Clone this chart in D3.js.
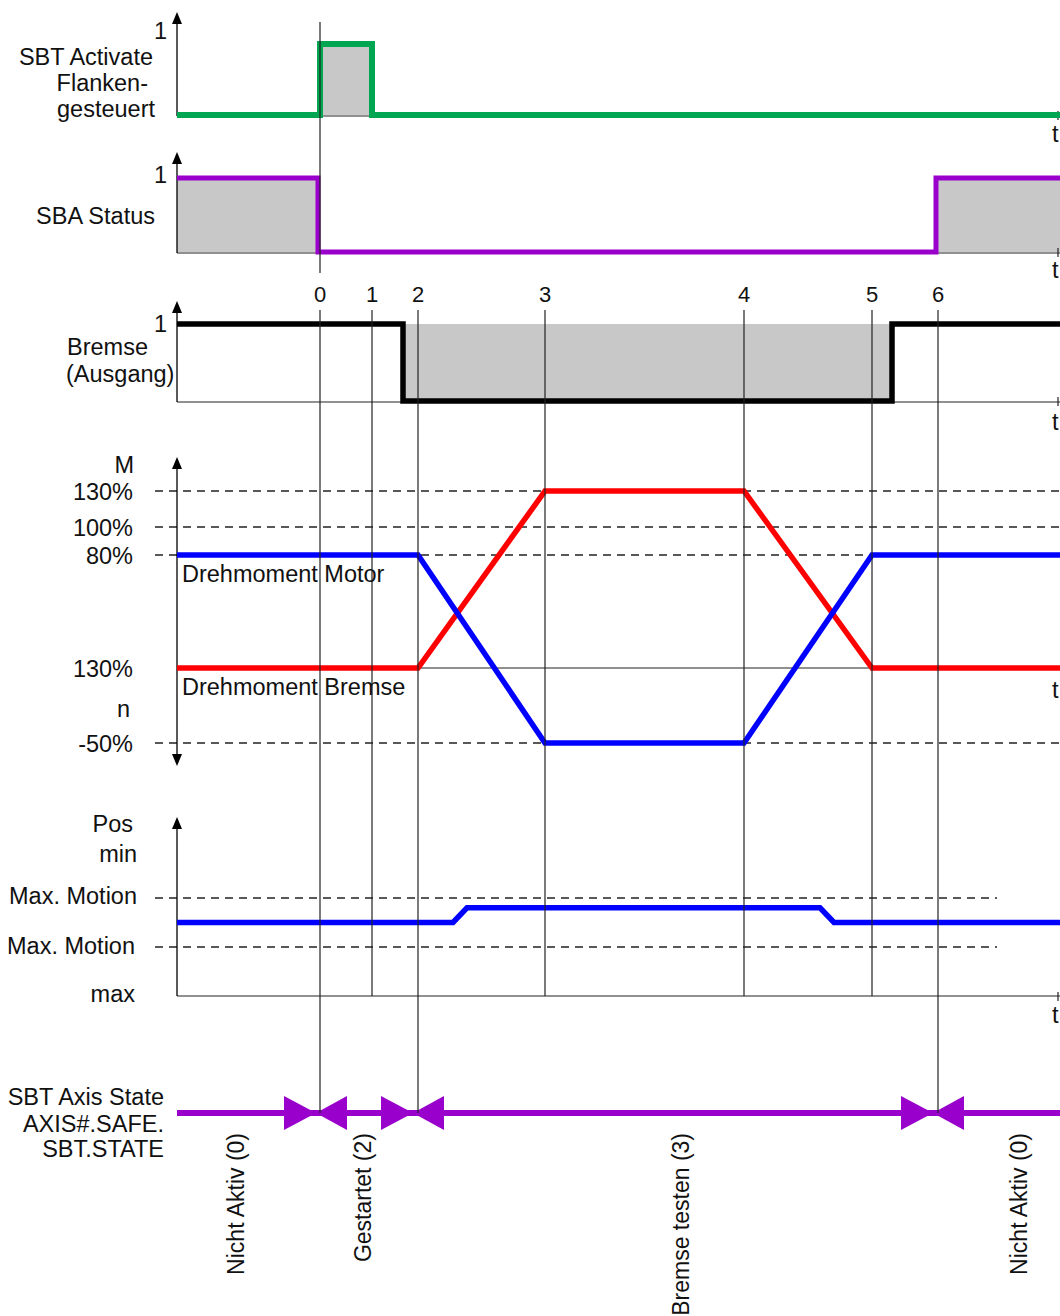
<!DOCTYPE html>
<html>
<head>
<meta charset="utf-8">
<script src="https://cdn.jsdelivr.net/npm/d3@7"></script>
<style>
  body { margin: 0; background: #fff; }
  text { font-family: "Liberation Sans", Arial, sans-serif; font-size: 23.5px; fill: #111; }
</style>
</head>
<body>
<svg id="chart" width="1060" height="1316"></svg>
<script>
// time runs in arbitrary units, 0 = left axis
const timeMarks = [
    {label: "0", t: 14.3}, {label: "1", t: 19.5}, {label: "2", t: 24.1},
    {label: "3", t: 36.8}, {label: "4", t: 56.7}, {label: "5", t: 69.5}, {label: "6", t: 76.1}
];
const longMarks = ["0", "2", "6"];

// digital signals [t, level]
const sbtActivate = [[0, 0], [14.3, 0], [14.3, 1], [19.5, 1], [19.5, 0], [88.3, 0]];
const sbaStatus   = [[0, 1], [14.1, 1], [14.1, 0], [75.9, 0], [75.9, 1], [88.3, 1]];
const brakeOut    = [[0, 1], [22.6, 1], [22.6, 0], [71.5, 0], [71.5, 1], [88.3, 1]];

// torque in %
const torqueMotor = [[0, 80], [24.1, 80], [36.8, -50], [56.7, -50], [69.5, 80], [88.3, 80]];
const torqueBrake = [[0, 0], [24.1, 0], [36.8, 130], [56.7, 130], [69.5, 0], [88.3, 0]];
const torqueTicks = [
    {label: "130%", v: 130}, {label: "100%", v: 100}, {label: "80%", v: 80},
    {label: "130%", v: 0}, {label: "-50%", v: -50}
];

// position, +-1 = Max. Motion limits
const position = [[0, 0], [27.6, 0], [29.0, 0.6], [64.3, 0.6], [65.7, 0], [88.3, 0]];
const positionTicks = [{label: "Max. Motion", v: 1}, {label: "Max. Motion", v: -1}];

// SBT axis state
const stateBoundaries = [13.9, 23.6, 75.6];
const stateLabels = [
    {label: "Nicht Aktiv (0)", t: 6.7}, {label: "Gestartet (2)", t: 19.4},
    {label: "Bremse testen (3)", t: 51.2}, {label: "Nicht Aktiv (0)", t: 85.0}
];

let svg = d3.select("#chart");
let x = d3.scaleLinear().domain([0, 88.3]).range([177, 1060]);
const X0 = x(0), XEND = 1060;

let back = svg.append("g");
let grid = svg.append("g");
let marks = svg.append("g");
let vlines = svg.append("g");
let labels = svg.append("g");

let arrowHead = (cx, tipY, dir) => {
    let b = tipY + 12 * dir;
    marks.append("path")
        .attr("d", `M${cx},${tipY}L${cx - 5},${b}L${cx + 5},${b}Z`)
        .attr("fill", "#000");
};
let hline = (g, x1, x2, y, dash) => {
    g.append("line")
        .attr("x1", x1).attr("x2", x2).attr("y1", y).attr("y2", y)
        .attr("stroke", "#222").attr("stroke-width", dash ? 1.4 : 1.2)
        .attr("stroke-dasharray", dash ? "8,6" : null);
};
let txt = (s, tx, ty, anchor, size) => {
    labels.append("text")
        .attr("x", tx).attr("y", ty)
        .attr("text-anchor", anchor || "end")
        .style("font-size", size ? size + "px" : null)
        .text(s);
};

//
// DIGITAL PANELS
//
let panels = [
    {data: sbtActivate, low: 115, high: 44, top: 12, color: "#00a651", width: 6, fill: "high",
     oneY: 39, tY: 142,
     texts: [["SBT Activate", 153, 65, "end"], ["Flanken-", 148, 91, "end"], ["gesteuert", 155, 117, "end"]]},
    {data: sbaStatus, low: 252, high: 178, top: 152, color: "#9900cc", width: 5, fill: "high",
     oneY: 183, tY: 278,
     texts: [["SBA Status", 155, 224, "end"]]},
    {data: brakeOut, low: 401, high: 324, top: 301, color: "#000", width: 5.5, fill: "low",
     oneY: 332, tY: 430,
     texts: [["Bremse", 67, 355, "start"], ["(Ausgang)", 66, 382, "start"]]}
];

panels.forEach(p => {
    let y = d3.scaleLinear().domain([0, 1]).range([p.low, p.high]);
    let area = d3.area()
        .x(d => x(d[0]))
        .y0(p.fill === "high" ? y(0) : y(1))
        .y1(d => y(d[1]));
    back.append("path").attr("d", area(p.data)).attr("fill", "#c8c8c8");

    hline(grid, X0, XEND, y(0) + 1, false);
    grid.append("line").attr("x1", 1058).attr("x2", 1058).attr("y1", y(0) - 4).attr("y2", y(0) + 5)
        .attr("stroke", "#222").attr("stroke-width", 1.2);
    grid.append("line").attr("x1", X0).attr("x2", X0).attr("y1", p.top + 8).attr("y2", y(0) + 1)
        .attr("stroke", "#000").attr("stroke-width", 1.3);
    arrowHead(X0, p.top, 1);

    let line = d3.line().x(d => x(d[0])).y(d => y(d[1]));
    marks.append("path").attr("d", line(p.data))
        .attr("fill", "none").attr("stroke", p.color)
        .attr("stroke-width", p.width).attr("stroke-linejoin", "miter");

    txt("1", 167, p.oneY, "end");
    txt("t", 1052, p.tY, "start");
    p.texts.forEach(t => txt(t[0], t[1], t[2], t[3]));
});

//
// TORQUE
//
let yT = d3.scaleLinear().domain([-50, 0, 80, 100, 130]).range([743, 668, 555, 527, 491]);

torqueTicks.forEach(tk => {
    if (tk.v === 0) hline(grid, X0, XEND, yT(tk.v), false);
    else hline(grid, 155, XEND, yT(tk.v), true);
    txt(tk.label, 133, yT(tk.v) + 9, "end");
});
txt("M", 134, 473, "end");
txt("n", 130, 717, "end");
txt("t", 1052, 698, "start");
grid.append("line").attr("x1", X0).attr("x2", X0).attr("y1", 466).attr("y2", 757)
    .attr("stroke", "#000").attr("stroke-width", 1.3);
arrowHead(X0, 457, 1);
arrowHead(X0, 766, -1);

let torqueLine = d3.line().x(d => x(d[0])).y(d => yT(d[1]));
marks.append("path").attr("d", torqueLine(torqueBrake))
    .attr("fill", "none").attr("stroke", "#ff0000").attr("stroke-width", 5.5);
marks.append("path").attr("d", torqueLine(torqueMotor))
    .attr("fill", "none").attr("stroke", "#0000ff").attr("stroke-width", 5.5);
txt("Drehmoment Motor", 182, 582, "start");
txt("Drehmoment Bremse", 182, 695, "start");

//
// POSITION
//
let yP = d3.scaleLinear().domain([-1, 1]).range([947, 898]);
positionTicks.forEach(tk => {
    hline(grid, 155, 997, yP(tk.v), true);
});
txt(positionTicks[0].label, 137, 904, "end");
txt(positionTicks[1].label, 135, 954, "end");
txt("Pos", 133, 832, "end");
txt("min", 137, 862, "end");
txt("max", 135, 1002, "end");
txt("t", 1052, 1023, "start");
hline(grid, X0, XEND, 996, false);
grid.append("line").attr("x1", 1058).attr("x2", 1058).attr("y1", 992).attr("y2", 1001)
    .attr("stroke", "#222").attr("stroke-width", 1.2);
grid.append("line").attr("x1", X0).attr("x2", X0).attr("y1", 826).attr("y2", 996)
    .attr("stroke", "#000").attr("stroke-width", 1.3);
arrowHead(X0, 817, 1);

let posLine = d3.line().x(d => x(d[0])).y(d => yP(d[1]));
marks.append("path").attr("d", posLine(position))
    .attr("fill", "none").attr("stroke", "#0000ff").attr("stroke-width", 5.5);

//
// TIME MARKS
//
timeMarks.forEach(m => {
    let mx = x(m.t);
    if (m.label === "0") {
        vlines.append("line").attr("x1", mx).attr("x2", mx).attr("y1", 22).attr("y2", 273)
            .attr("stroke", "#222").attr("stroke-width", 1.2);
    }
    vlines.append("line").attr("x1", mx).attr("x2", mx)
        .attr("y1", 310).attr("y2", longMarks.includes(m.label) ? 1113 : 996)
        .attr("stroke", "#222").attr("stroke-width", 1.2);
    txt(m.label, mx, 302, "middle", 22);
});

//
// SBT AXIS STATE
//
const stateY = 1113;
marks.append("line").attr("x1", X0).attr("x2", XEND).attr("y1", stateY).attr("y2", stateY)
    .attr("stroke", "#9900cc").attr("stroke-width", 6);
stateBoundaries.forEach(b => {
    let bx = x(b);
    marks.append("path")
        .attr("d", `M${bx},${stateY}L${bx - 32},${stateY - 17}L${bx - 32},${stateY + 17}Z`)
        .attr("fill", "#9900cc");
    marks.append("path")
        .attr("d", `M${bx},${stateY}L${bx + 31},${stateY - 17}L${bx + 31},${stateY + 17}Z`)
        .attr("fill", "#9900cc");
});
txt("SBT Axis State", 164, 1105, "end");
txt("AXIS#.SAFE.", 164, 1132, "end");
txt("SBT.STATE", 164, 1157, "end");

stateLabels.forEach(s => {
    labels.append("text")
        .attr("transform", `translate(${x(s.t)},1133)rotate(-90)`)
        .attr("text-anchor", "end")
        .style("font-size", "23px")
        .text(s.label);
});
</script>
</body>
</html>
